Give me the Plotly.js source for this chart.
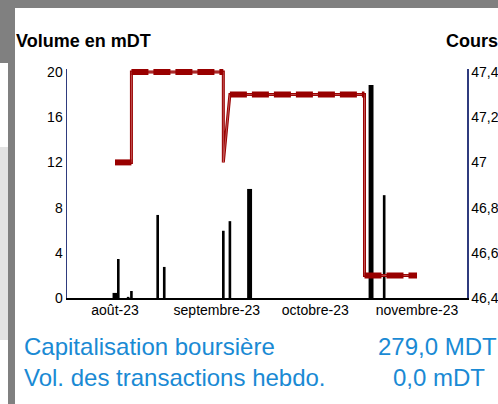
<!DOCTYPE html>
<html>
<head>
<meta charset="utf-8">
<script src="https://cdn.plot.ly/plotly-3.0.1.min.js"></script>
<style>
html,body{margin:0;padding:0;background:#ffffff;}
#chart{width:498px;height:404px;}
</style>
</head>
<body>
<div id="chart"></div>
<script>
// ---- data ----
const volDatesThin = ['2023-08-02','2023-08-05','2023-08-06','2023-08-14','2023-08-16','2023-09-03','2023-09-05','2023-10-22'];
const volThin      = [3.45, 0.1, 0.62, 7.35, 2.75, 5.95, 6.8, 9.1];
const volDatesWide = ['2023-08-01','2023-09-11','2023-10-18'];
const volWide      = [0.45, 9.65, 18.85];

const priceDates = ['2023-08-01','2023-08-06','2023-08-06','2023-09-03','2023-09-03','2023-09-05','2023-10-16','2023-10-16','2023-11-01'];
const priceVals  = [47.0, 47.0, 47.4, 47.4, 47.0, 47.3, 47.3, 46.5, 46.5];

const monthTickVals  = ['2023-08-01','2023-09-01','2023-10-01','2023-11-01'];
const monthTickText  = ['août-23','septembre-23','octobre-23','novembre-23'];
const volTickVals    = [0, 4, 8, 12, 16, 20];
const volTickText    = ['0','4','8','12','16','20'];
const priceTickVals  = [46.4, 46.6, 46.8, 47.0, 47.2, 47.4];
const priceTickText  = ['46,4','46,6','46,8','47','47,2','47,4'];

const leftTitle  = 'Volume en mDT';
const rightTitle = 'Cours';
const infoLabels = ['Capitalisation boursière', 'Vol. des transactions hebdo.'];
const infoValues = ['279,0 MDT', '0,0 mDT'];

// ---- build runs of constant price for the thick dashed overlay ----
const runX = [], runY = [];
for (let i = 0; i < priceVals.length; i++) {
  if (i > 0 && priceVals[i] !== priceVals[i-1]) { runX.push(null); runY.push(null); }
  runX.push(priceDates[i]); runY.push(priceVals[i]);
}

const DAY = 86400000;
const FONT = '"Liberation Sans", Arial, sans-serif';
const RED = '#990000';
const BLUE = '#1a8ad4';
const AXIS_NAVY = '#2f3b7e';

// plot geometry in page pixels: the value 20 / 47.4 sits at y=72, zero at y=298;
// plot area is extended 3px above so the thick top line isn't clipped
const L = 67, R = 467, B = 298, TOPVAL_Y = 72, EXTRA = 3;
const T = TOPVAL_Y - EXTRA;
const volPerPx = 20 / (B - TOPVAL_Y);
const pricePerPx = 1.0 / (B - TOPVAL_Y);

const traces = [
  {type:'bar', x: volDatesThin, y: volThin, width: 0.8*DAY, marker:{color:'#000000'}, yaxis:'y', hoverinfo:'skip'},
  {type:'bar', x: volDatesWide, y: volWide, width: 1.5*DAY, marker:{color:'#000000'}, yaxis:'y', hoverinfo:'skip'},
  {type:'scatter', mode:'lines', x: priceDates, y: priceVals, yaxis:'y2', line:{color:RED, width:3}, hoverinfo:'skip'},
  {type:'scatter', mode:'lines', x: priceDates, y: priceVals, yaxis:'y2', line:{color:'#c86a6a', width:0.8}, hoverinfo:'skip'},
  {type:'scatter', mode:'lines', x: runX, y: runY, yaxis:'y2', connectgaps:false, line:{color:RED, width:6, dash:'17px,5px'}, hoverinfo:'skip'}
];

const px = X => (X - L) / (R - L);
const py = Y => (B - Y) / (B - T);

const annotations = [
  {text:'<b>' + leftTitle + '</b>', x:px(14), y:py(40.5), xref:'paper', yref:'paper', xanchor:'left', yanchor:'middle', showarrow:false, font:{family:FONT, size:18, color:'#000'}},
  {text:'<b>' + rightTitle + '</b>', x:px(444), y:py(40.5), xref:'paper', yref:'paper', xanchor:'left', yanchor:'middle', showarrow:false, font:{family:FONT, size:18, color:'#000'}},
  {text:infoLabels[0], x:px(22), y:py(346.5), xref:'paper', yref:'paper', xanchor:'left', yanchor:'middle', showarrow:false, font:{family:FONT, size:24, color:BLUE}},
  {text:infoLabels[1], x:px(22), y:py(377.5), xref:'paper', yref:'paper', xanchor:'left', yanchor:'middle', showarrow:false, font:{family:FONT, size:24, color:BLUE}},
  {text:infoValues[0], x:px(437), y:py(346.5), xref:'paper', yref:'paper', xanchor:'center', yanchor:'middle', showarrow:false, font:{family:FONT, size:24, color:BLUE}},
  {text:infoValues[1], x:px(439), y:py(377.5), xref:'paper', yref:'paper', xanchor:'center', yanchor:'middle', showarrow:false, font:{family:FONT, size:24, color:BLUE}}
];

const shapes = [
  {type:'rect', xref:'paper', yref:'paper', x0:px(-5), x1:px(510), y0:py(8), y1:py(-5), fillcolor:'#808080', line:{width:0}, layer:'above'},
  {type:'rect', xref:'paper', yref:'paper', x0:px(-5), x1:px(15), y0:py(63), y1:py(-5), fillcolor:'#808080', line:{width:0}, layer:'above'},
  {type:'rect', xref:'paper', yref:'paper', x0:px(8), x1:px(15), y0:py(410), y1:py(-5), fillcolor:'#808080', line:{width:0}, layer:'above'},
  {type:'rect', xref:'paper', yref:'paper', x0:px(-5), x1:px(8), y0:py(340), y1:py(147), fillcolor:'#e3e3e3', line:{width:0}, layer:'above'}
];

const layout = {
  width: 498, height: 404,
  margin: {l: L, r: 498 - R, t: T, b: 404 - B, pad: 0},
  paper_bgcolor: '#ffffff', plot_bgcolor: '#ffffff',
  showlegend: false,
  barmode: 'overlay',
  font: {family: FONT, size: 14, color: '#000'},
  xaxis: {
    type: 'date',
    range: ['2023-07-17 09:00', '2023-11-16 05:30'],
    tickmode: 'array', tickvals: monthTickVals, ticktext: monthTickText,
    showgrid: false, zeroline: false,
    showline: true, linecolor: '#000', linewidth: 2,
    ticks: '', ticklen: 0, ticklabelstandoff: -2,
    tickfont: {family: FONT, size: 14, color: '#000'}
  },
  yaxis: {
    range: [0, 20 + EXTRA * volPerPx],
    tickmode: 'array', tickvals: volTickVals, ticktext: volTickText,
    showgrid: false, zeroline: false,
    showline: true, linecolor: AXIS_NAVY, linewidth: 1.5,
    ticks: '', ticklen: 0, tickfont: {family: FONT, size: 14, color: '#000'}
  },
  yaxis2: {
    overlaying: 'y', side: 'right',
    range: [46.4, 47.4 + EXTRA * pricePerPx],
    tickmode: 'array', tickvals: priceTickVals, ticktext: priceTickText,
    showgrid: false, zeroline: false,
    showline: true, linecolor: AXIS_NAVY, linewidth: 1.5,
    ticks: '', ticklen: 0, tickfont: {family: FONT, size: 14, color: '#000'}
  },
  annotations: annotations,
  shapes: shapes
};

Plotly.newPlot('chart', traces, layout, {displayModeBar: false, staticPlot: true});
</script>
</body>
</html>
